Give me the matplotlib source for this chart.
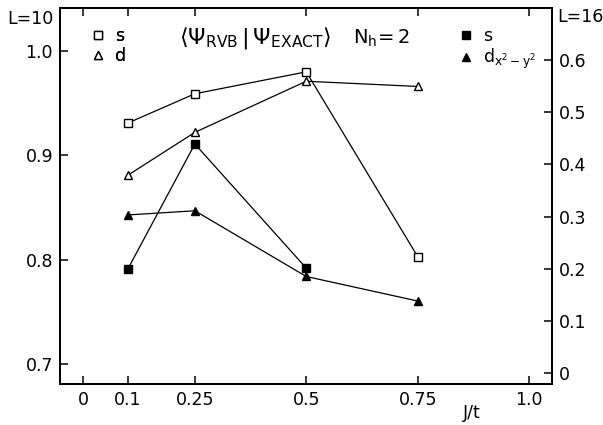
import matplotlib
matplotlib.use("Agg")
import matplotlib.pyplot as plt
from matplotlib.lines import Line2D

# ---- data ----
J = [0.1, 0.25, 0.5, 0.75]
s_L10 = [0.931, 0.959, 0.980, 0.803]
d_L10 = [0.881, 0.922, 0.971, 0.966]
J_s16 = [0.1, 0.25, 0.5]
s_L16 = [0.200, 0.439, 0.201]
d_L16 = [0.303, 0.311, 0.185, 0.138]

xticks = [0, 0.1, 0.25, 0.5, 0.75, 1.0]
xticklabels = ["0", "0.1", "0.25", "0.5", "0.75", "1.0"]
yticks_left = [0.7, 0.8, 0.9, 1.0]
yticklabels_left = ["0.7", "0.8", "0.9", "1.0"]
yticks_right = [0, 0.1, 0.2, 0.3, 0.4, 0.5, 0.6]
yticklabels_right = ["0", "0.1", "0.2", "0.3", "0.4", "0.5", "0.6"]

plt.rcParams['font.family'] = ['DejaVu Sans']
plt.rcParams['mathtext.fontset'] = 'dejavusans'
FS = 12.5

W, H = 603, 425
fig = plt.figure(figsize=(W / 100, H / 100), dpi=100)
L, R, T, B = 60, 552, 8, 384
ax = fig.add_axes([L / W, 1 - B / H, (R - L) / W, (B - T) / H])
ax2 = ax.twinx()

ax.set_xlim(-0.0527, 1.0516)
ax.set_ylim(0.6808, 1.0412)
ax2.set_ylim(-0.0211, 0.6997)

lw = 0.9
ms = 5.8
ax.plot(J, s_L10, color='black', lw=lw, marker='s', ms=ms, mfc='white', mec='black', mew=1.0, zorder=3)
ax.plot(J, d_L10, color='black', lw=lw, marker='^', ms=ms, mfc='white', mec='black', mew=1.0, zorder=3)
ax2.plot(J_s16, s_L16, color='black', lw=lw, marker='s', ms=ms, mfc='black', mec='black', zorder=3)
ax2.plot(J, d_L16, color='black', lw=lw, marker='^', ms=ms, mfc='black', mec='black', zorder=3)

for a in (ax, ax2):
    for sp in a.spines.values():
        sp.set_linewidth(1.4)

ax.set_xticks(xticks)
ax.set_xticklabels(xticklabels, fontsize=FS)
ax.set_yticks(yticks_left)
ax.set_yticklabels(yticklabels_left, fontsize=FS)
ax.tick_params(axis='x', direction='in', length=6, width=1.1, top=True, labeltop=False, pad=5)
ax.tick_params(axis='y', direction='in', length=6, width=1.1, left=True, right=False, pad=5)
ax2.set_yticks(yticks_right)
ax2.set_yticklabels(yticklabels_right, fontsize=FS)
ax2.tick_params(axis='y', direction='in', length=6, width=1.1, pad=5)

# legends
h1 = [Line2D([], [], ls='none', marker='s', ms=ms, mfc='white', mec='black'),
      Line2D([], [], ls='none', marker='^', ms=ms, mfc='white', mec='black')]
leg1 = ax.legend(h1, ['s', 'd'], loc='upper left', bbox_to_anchor=((91 - L) / (R - L), 1 - (27 - T) / (B - T)),
                 frameon=False, fontsize=FS, handlelength=0.8, handletextpad=0.6, labelspacing=0.12,
                 borderpad=0, borderaxespad=0)
ax.add_artist(leg1)
h2 = [Line2D([], [], ls='none', marker='s', ms=ms, mfc='black', mec='black'),
      Line2D([], [], ls='none', marker='^', ms=ms, mfc='black', mec='black')]
leg2 = ax2.legend(h2, ['s', r'$\mathrm{d}_{\mathrm{x}^2-\mathrm{y}^2}$'], loc='upper left',
                  bbox_to_anchor=((459 - L) / (R - L), 1 - (27 - T) / (B - T)),
                  frameon=False, fontsize=FS, handlelength=0.8, handletextpad=0.6, labelspacing=0.12,
                  borderpad=0, borderaxespad=0)

# title inside
fig.text(255 / W, 1 - 38 / H, r'$\langle\Psi_{\mathrm{RVB}}\,|\,\Psi_{\mathrm{EXACT}}\rangle$',
         fontsize=16, ha='center', va='center')
fig.text(382 / W, 1 - 38 / H, r'$\mathrm{N}_{\mathrm{h}}\!=2$', fontsize=14, ha='center', va='center')

fig.text(30 / W, 1 - 19 / H, 'L=10', fontsize=FS, ha='center', va='center')
fig.text(580 / W, 1 - 17 / H, 'L=16', fontsize=FS, ha='center', va='center')
fig.text(472 / W, 1 - 413 / H, 'J/t', fontsize=FS, ha='center', va='center')

fig.savefig('out.png', dpi=100)
